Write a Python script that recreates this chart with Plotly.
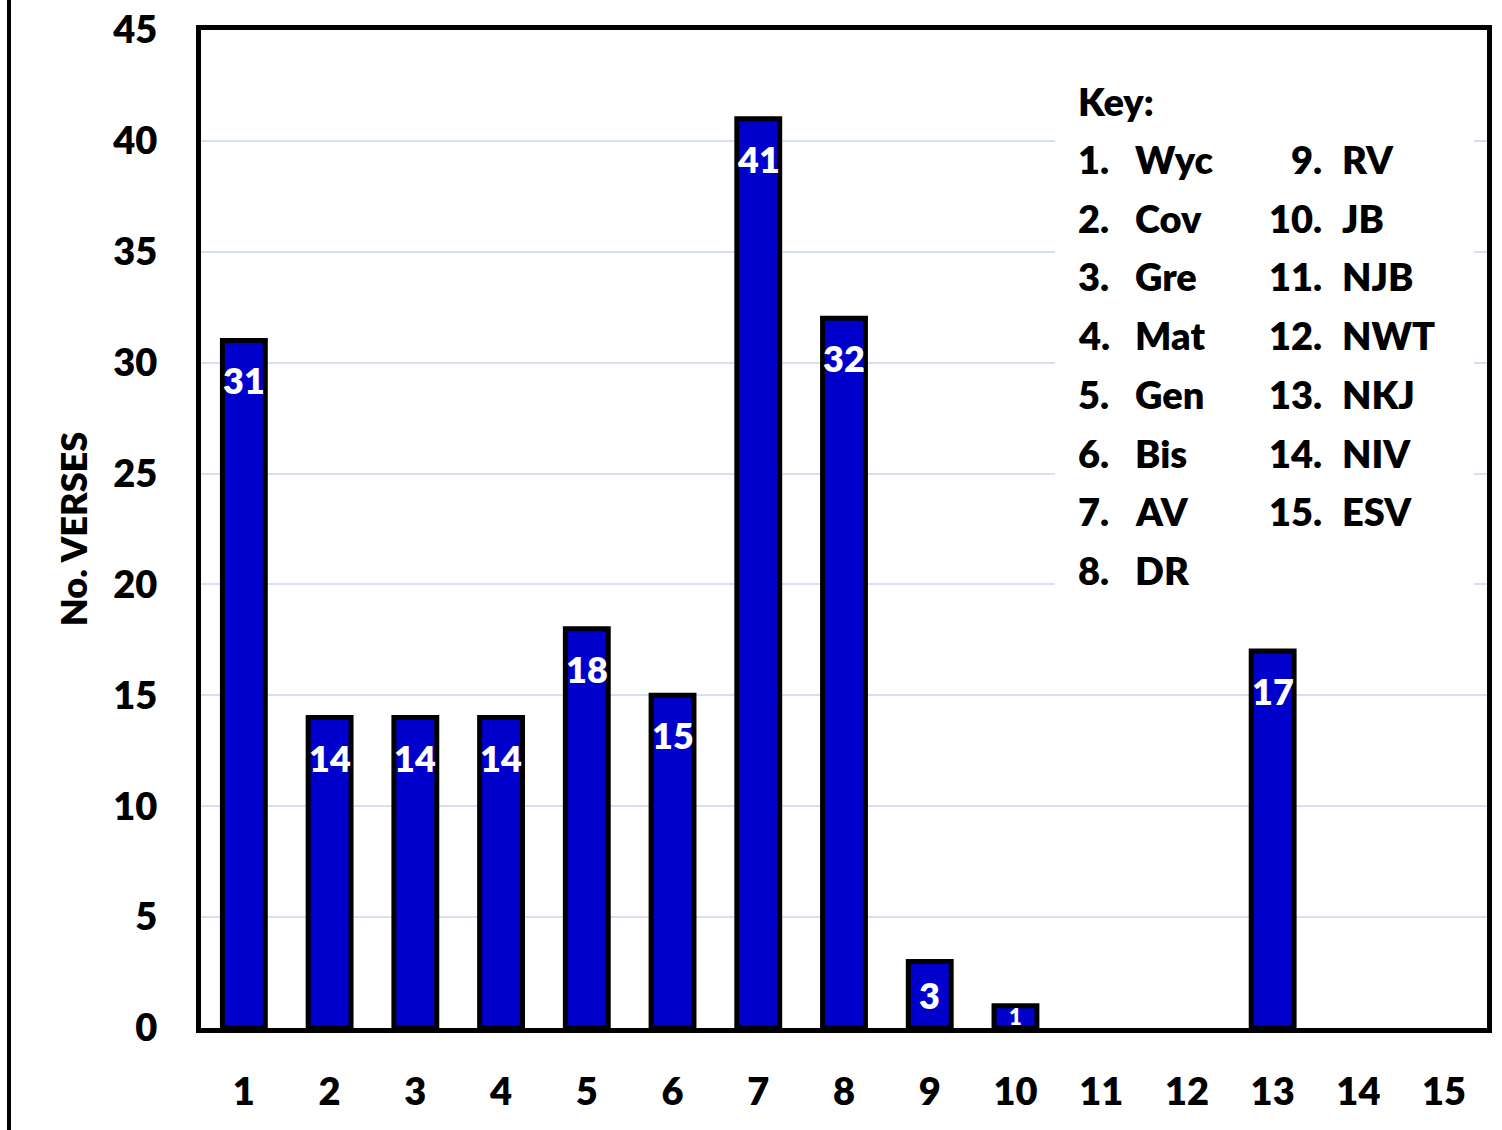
import plotly.graph_objects as go

# ---- data ----
categories = list(range(1, 16))
verses = [31, 14, 14, 14, 18, 15, 41, 32, 3, 1, 0, 0, 17, 0, 0]
y_ticks = [0, 5, 10, 15, 20, 25, 30, 35, 40, 45]
key_col1_nums = ["1.", "2.", "3.", "4.", "5.", "6.", "7.", "8."]
key_col1_names = ["Wyc", "Cov", "Gre", "Mat", "Gen", "Bis", "AV", "DR"]
key_col2_nums = ["9.", "10.", "11.", "12.", "13.", "14.", "15."]
key_col2_names = ["RV", "JB", "NJB", "NWT", "NKJ", "NIV", "ESV"]

FONT = "Lato"
WEIGHT = 800
W, H = 1502, 1130
L, R, T, B = 201, 15, 30, 102
PW, PH = W - L - R, H - T - B
Y_MAX = 45
PX_PER_UNIT = PH / Y_MAX

def px(x):
    return (x - L) / PW

def py(y):
    return (H - B - y) / PH

fig = go.Figure()
fig.add_trace(go.Bar(
    x=categories, y=[v if v > 0 else None for v in verses], width=0.5,
    marker=dict(color="#0000CC", line=dict(color="black", width=5)),
    hoverinfo="x+y",
))

# value labels inside the top of each bar
for c, v in zip(categories, verses):
    if v <= 0:
        continue
    bar_px = v * PX_PER_UNIT
    shift = min(40, bar_px / 2)
    size = 36 if bar_px > 50 else 22
    fig.add_annotation(x=c, y=v, xref="x", yref="y", text=str(v), showarrow=False,
                       yanchor="middle", xanchor="center", yshift=-shift,
                       font=dict(family=FONT, size=size, color="white", weight=WEIGHT))

fig.update_layout(
    width=W, height=H,
    margin=dict(l=L, r=R, t=T, b=B, autoexpand=False),
    paper_bgcolor="white", plot_bgcolor="white",
    showlegend=False,
    font=dict(family=FONT, color="black", weight=WEIGHT),
    xaxis=dict(
        range=[0.5, 15.5], tickmode="array", tickvals=categories,
        ticktext=[str(c) for c in categories],
        tickfont=dict(family=FONT, size=38, weight=WEIGHT, color="black"),
        ticks="outside", ticklen=26, tickcolor="rgba(0,0,0,0)",
        showline=True, linecolor="black", linewidth=5, mirror=True,
        showgrid=False, zeroline=False, automargin=False,
    ),
    yaxis=dict(
        range=[0, Y_MAX], tickmode="array", tickvals=y_ticks,
        tickfont=dict(family=FONT, size=38, weight=WEIGHT, color="black"),
        ticks="outside", ticklen=31, tickcolor="rgba(0,0,0,0)",
        showline=True, linecolor="black", linewidth=5, mirror=True,
        showgrid=True, gridcolor="#D6E0F0", gridwidth=2, zeroline=False,
        automargin=False,
        title=dict(text="No. VERSES", font=dict(family=FONT, size=36, weight=WEIGHT, color="black"),
                   standoff=15),
    ),
)

# left vertical line at the page edge
fig.add_shape(type="line", xref="paper", yref="paper",
              x0=px(9), x1=px(9), y0=py(H + 5), y1=py(-5),
              line=dict(color="black", width=4))

# key box (white background hiding gridlines)
fig.add_shape(type="rect", xref="paper", yref="paper",
              x0=px(1055), x1=px(1474), y0=py(612), y1=py(75),
              fillcolor="white", line=dict(width=0), layer="above")

ann_font = dict(family=FONT, size=38, weight=WEIGHT, color="black")
fig.add_annotation(x=px(1076), y=py(101), xref="paper", yref="paper", text="Key:",
                   showarrow=False, xanchor="left", yanchor="middle", font=ann_font)
row0, step = 159, 58.7
for i, (n, s) in enumerate(zip(key_col1_nums, key_col1_names)):
    yy = py(row0 + i * step)
    fig.add_annotation(x=px(1076), y=yy, xref="paper", yref="paper", text=n,
                       showarrow=False, xanchor="left", yanchor="middle", font=ann_font)
    fig.add_annotation(x=px(1133), y=yy, xref="paper", yref="paper", text=s,
                       showarrow=False, xanchor="left", yanchor="middle", font=ann_font)
for i, (n, s) in enumerate(zip(key_col2_nums, key_col2_names)):
    yy = py(row0 + i * step)
    fig.add_annotation(x=px(1324), y=yy, xref="paper", yref="paper", text=n,
                       showarrow=False, xanchor="right", yanchor="middle", font=ann_font)
    fig.add_annotation(x=px(1340), y=yy, xref="paper", yref="paper", text=s,
                       showarrow=False, xanchor="left", yanchor="middle", font=ann_font)

fig.write_html("out.html", config={"displayModeBar": False},
               post_script="document.body.style.margin='0';document.body.style.overflow='hidden';")
